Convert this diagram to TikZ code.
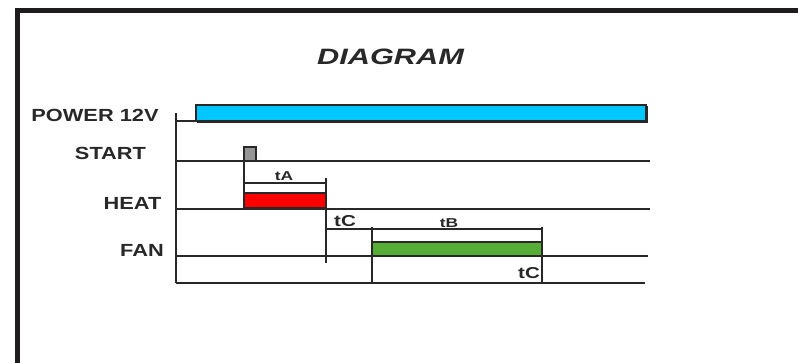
\documentclass[tikz,border=0pt]{standalone}
\usepackage{fontspec}
\setmainfont{Liberation Sans}
\usepackage{tikz}
\usepackage{xcolor}
\definecolor{powerblue}{RGB}{0,200,255}
\definecolor{heatred}{RGB}{255,0,0}
\definecolor{fangreen}{RGB}{85,173,53}
\definecolor{startgrey}{RGB}{150,150,150}
\definecolor{ink}{RGB}{40,40,40}
\definecolor{frame}{RGB}{30,28,28}
\usetikzlibrary{calc,positioning}

\begin{document}
\begin{tikzpicture}[x=0.03cm,y=-0.03cm,
        sig/.style={draw=ink,line width=1.1pt},
        lbl/.style={font=\fontsize{15}{17}\selectfont\bfseries,text=ink,xscale=1.24,transform shape,inner sep=0pt},
        tlbl/.style={font=\fontsize{13.5}{15}\selectfont\bfseries,text=ink,xscale=1.3,transform shape,inner sep=0pt},
        slbl/.style={font=\fontsize{11}{13}\selectfont\bfseries,text=ink,xscale=1.35,transform shape,inner sep=0pt}]
        \useasboundingbox (0,0) rectangle (798,363);
        \draw[draw=frame,line width=0.15cm] (17.5,363) -- (17.5,10.5) -- (798,10.5);
        \node[font=\fontsize{19}{22}\selectfont\bfseries\itshape,text=ink,xscale=1.38,transform shape,inner sep=0pt] (title) at (390.5,57) {DIAGRAM};
        \node[lbl] (power) at (95,115) {POWER 12V};
        \node[lbl] (start) at (110.5,153.5) {START};
        \node[lbl] (heat) at (132.5,203) {HEAT};
        \node[lbl] (fan) at (142,250) {FAN};
        \begin{scope}
            \draw[sig] (176,113) -- (176,283);
            \draw[sig] (176,121) -- (648,121);
            \draw[draw=ink,line width=1.6pt] (197.5,107) rectangle (647.5,122);
            \draw[draw=ink,fill=powerblue,line width=0.9pt] (196,105) rectangle (646,120.5);
        \end{scope}
        \begin{scope}
            \draw[sig] (176,161) -- (650,161);
            \draw[draw=ink,fill=startgrey,line width=1pt] (244,147) rectangle (256,161);
            \draw[sig] (244,161) -- (244,209);
        \end{scope}
        \begin{scope}
            \draw[sig] (176,209) -- (650,209);
            \draw[sig] (244,183) -- (326,183);
            \draw[sig] (326,178) -- (326,263);
            \draw[draw=ink,fill=heatred,line width=1pt] (244,193) rectangle (326,208);
            \draw[draw=ink,line width=2pt] (244,208.5) -- (326,208.5);
            \node[slbl] (ta) at (284,176) {tA};
            \node[tlbl] (tc1) at (345,221) {tC};
        \end{scope}
        \begin{scope}
            \draw[sig] (176,256) -- (648,256);
            \draw[sig] (326,229) -- (542,229);
            \draw[sig] (372,226.5) -- (372,283);
            \draw[sig] (542,226.5) -- (542,283);
            \draw[draw=ink,fill=fangreen,line width=1pt] (372,242) rectangle (542,256);
            \draw[sig] (176,283) -- (645,283);
            \node[slbl] (tb) at (449,223.5) {tB};
            \node[tlbl] (tc2) at (529,273.5) {tC};
        \end{scope}
    \end{tikzpicture}
\end{document}
